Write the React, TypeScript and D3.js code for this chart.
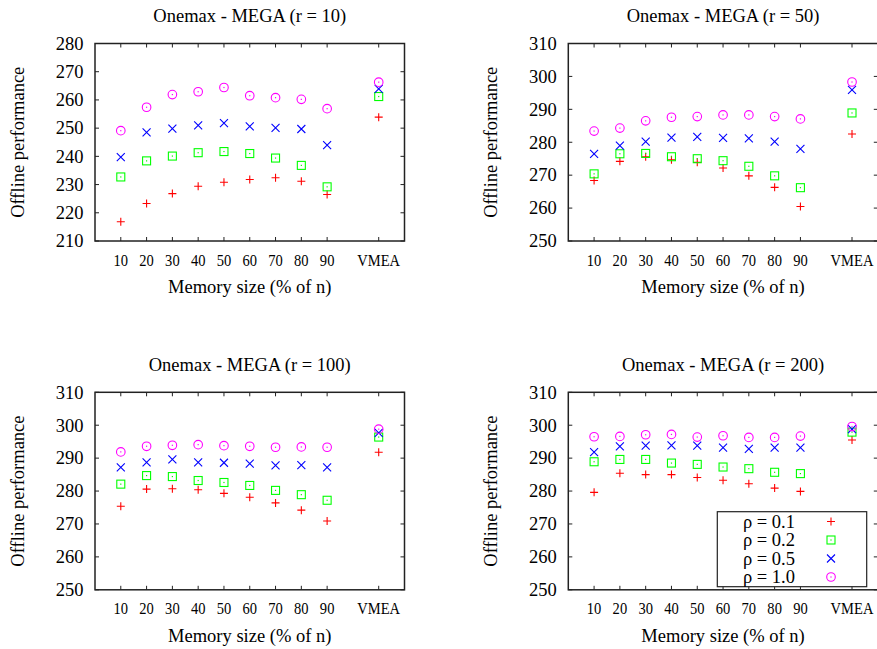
import React from "react";
import * as d3 from "d3";

const categories = ["10", "20", "30", "40", "50", "60", "70", "80", "90", "VMEA"];
const categoryPos = [1, 2, 3, 4, 5, 6, 7, 8, 9, 11];

const seriesLabels = ["ρ = 0.1", "ρ = 0.2", "ρ = 0.5", "ρ = 1.0"];
const seriesColors = ["#ff0000", "#00ff00", "#0000ff", "#ff00ff"];
const seriesShapes = ["plus", "square", "cross", "circle"];

const titles = [
  "Onemax - MEGA (r = 10)",
  "Onemax - MEGA (r = 50)",
  "Onemax - MEGA (r = 100)",
  "Onemax - MEGA (r = 200)",
];
const yTicks1 = [210, 220, 230, 240, 250, 260, 270, 280];
const yTicksOther = [250, 260, 270, 280, 290, 300, 310];

// r = 10
const r10_p01 = [216.8, 223.3, 226.8, 229.4, 230.8, 231.8, 232.4, 231.2, 226.5, 253.9];
const r10_p02 = [232.7, 238.4, 240.1, 241.3, 241.7, 241.0, 239.4, 236.8, 229.2, 261.2];
const r10_p05 = [239.7, 248.5, 249.8, 251.0, 251.8, 250.6, 250.1, 249.7, 244.0, 263.9];
const r10_p10 = [249.1, 257.4, 261.9, 262.9, 264.4, 261.5, 260.8, 260.2, 256.9, 266.3];

// r = 50
const r50_p01 = [268.4, 274.2, 275.6, 274.7, 273.9, 272.2, 269.8, 266.3, 260.5, 282.5];
const r50_p02 = [270.4, 276.5, 276.6, 275.6, 275.0, 274.4, 272.7, 269.8, 266.2, 288.9];
const r50_p05 = [276.5, 279.0, 280.2, 281.4, 281.6, 281.3, 281.2, 280.2, 278.0, 295.9];
const r50_p10 = [283.4, 284.3, 286.5, 287.6, 287.8, 288.3, 288.3, 287.8, 287.1, 298.3];

// r = 100
const r100_p01 = [275.4, 280.6, 280.7, 280.4, 279.3, 278.1, 276.4, 274.2, 270.9, 291.8];
const r100_p02 = [282.1, 284.7, 284.4, 283.2, 282.6, 281.7, 280.2, 278.9, 277.2, 296.4];
const r100_p05 = [287.2, 288.7, 289.6, 288.7, 288.6, 288.3, 287.8, 287.9, 287.2, 297.7];
const r100_p10 = [291.9, 293.6, 293.9, 294.1, 293.8, 293.6, 293.3, 293.4, 293.3, 298.8];

// r = 200
const r200_p01 = [279.6, 285.4, 285.0, 285.0, 284.1, 283.3, 282.2, 280.9, 279.9, 295.5];
const r200_p02 = [288.9, 289.6, 289.6, 288.5, 288.1, 287.3, 286.8, 285.7, 285.3, 297.9];
const r200_p05 = [291.8, 293.6, 293.8, 293.9, 293.8, 293.2, 292.8, 293.2, 293.2, 298.8];
const r200_p10 = [296.5, 296.6, 297.1, 297.2, 296.4, 296.8, 296.3, 296.3, 296.7, 299.6];

const panelsData = [
  [r10_p01, r10_p02, r10_p05, r10_p10],
  [r50_p01, r50_p02, r50_p05, r50_p10],
  [r100_p01, r100_p02, r100_p05, r100_p10],
  [r200_p01, r200_p02, r200_p05, r200_p10],
];
const panelTicks = [yTicks1, yTicksOther, yTicksOther, yTicksOther];

const FONT = "Liberation Serif";
const FS = 18.5;
const FSX = 17.3;
const PW = 309.5;
const PH = 197.5;
const panelOrigins = [
  [95, 43.5],
  [568.3, 43.5],
  [95, 392.3],
  [568.3, 392.3],
];

function Marker({ shape, x, y, color }: { shape: string; x: number; y: number; color: string }) {
  const s = 4;
  const sw = 1.1;
  if (shape === "plus") {
    return (
      <path d={`M${x - s},${y}H${x + s}M${x},${y - s}V${y + s}`} stroke={color} strokeWidth={sw} fill="none" />
    );
  }
  if (shape === "cross") {
    return (
      <path
        d={`M${x - s},${y - s}L${x + s},${y + s}M${x - s},${y + s}L${x + s},${y - s}`}
        stroke={color}
        strokeWidth={sw}
        fill="none"
      />
    );
  }
  if (shape === "square") {
    return (
      <g>
        <rect x={x - s} y={y - s} width={2 * s} height={2 * s} stroke={color} strokeWidth={sw} fill="none" />
        <rect x={x - 0.6} y={y - 0.6} width={1.2} height={1.2} fill={color} />
      </g>
    );
  }
  return (
    <g>
      <circle cx={x} cy={y} r={s + 0.3} stroke={color} strokeWidth={sw} fill="none" />
      <rect x={x - 0.6} y={y - 0.6} width={1.2} height={1.2} fill={color} />
    </g>
  );
}

function Panel({ idx }: { idx: number }) {
  const [L, T] = panelOrigins[idx];
  const ticks = panelTicks[idx];
  const x = d3.scaleLinear().domain([0, 12]).range([L, L + PW]);
  const y = d3
    .scaleLinear()
    .domain([d3.min(ticks) as number, d3.max(ticks) as number])
    .range([T + PH, T]);
  const tl = 4;
  const cx = L + PW / 2;
  return (
    <g>
      <text x={cx} y={T - 21.5} textAnchor="middle" fontFamily={FONT} fontSize={FS} fill="#000">
        {titles[idx]}
      </text>
      {ticks.map((t) => (
        <g key={"y" + t}>
          <line x1={L} x2={L + tl} y1={y(t)} y2={y(t)} stroke="#222" strokeWidth={1} />
          <line x1={L + PW} x2={L + PW - tl} y1={y(t)} y2={y(t)} stroke="#222" strokeWidth={1} />
          <text x={L - 11.5} y={y(t)} dy="0.34em" textAnchor="end" fontFamily={FONT} fontSize={FS} fill="#000">
            {t}
          </text>
        </g>
      ))}
      {categories.map((c, i) => (
        <g key={"x" + c}>
          <line x1={x(categoryPos[i])} x2={x(categoryPos[i])} y1={T + PH} y2={T + PH - tl} stroke="#222" strokeWidth={1} />
          <line x1={x(categoryPos[i])} x2={x(categoryPos[i])} y1={T} y2={T + tl} stroke="#222" strokeWidth={1} />
          <text
            transform={`translate(${x(categoryPos[i])},${T + PH + 24.5}) scale(0.84,1)`}
            textAnchor="middle"
            fontFamily={FONT}
            fontSize={FSX}
            fill="#000"
          >
            {c}
          </text>
        </g>
      ))}
      <rect x={L} y={T} width={PW} height={PH} fill="none" stroke="#222" strokeWidth={1.5} />
      <text x={cx} y={T + PH + 52} textAnchor="middle" fontFamily={FONT} fontSize={FS} fill="#000">
        Memory size (% of n)
      </text>
      <text
        transform={`translate(${L - 77},${T + PH / 2}) rotate(-90)`}
        textAnchor="middle"
        dominantBaseline="central"
        fontFamily={FONT}
        fontSize={FS}
        fill="#000"
      >
        Offline performance
      </text>
      {panelsData[idx].map((vals, si) =>
        vals.map((v, i) => (
          <Marker
            key={si + "-" + i}
            shape={seriesShapes[si]}
            x={x(categoryPos[i])}
            y={y(v)}
            color={seriesColors[si]}
          />
        ))
      )}
    </g>
  );
}

function Legend() {
  const bx = 717.3;
  const by = 511.7;
  const bw = 149.4;
  const bh = 75;
  const rowY = d3.scaleLinear().domain([0, 3]).range([521.5, 577]);
  return (
    <g>
      <rect x={bx} y={by} width={bw} height={bh} fill="#fff" stroke="#222" strokeWidth={1.2} />
      {seriesLabels.map((lab, i) => (
        <g key={lab}>
          <text x={795} y={rowY(i)} dy="0.34em" textAnchor="end" fontFamily={FONT} fontSize={FS} fill="#000">
            {lab}
          </text>
          <Marker shape={seriesShapes[i]} x={831} y={rowY(i)} color={seriesColors[i]} />
        </g>
      ))}
    </g>
  );
}

export default function App() {
  return (
    <svg width={877} height={649} style={{ position: "fixed", left: 0, top: 0, background: "#fff" }}>
      <rect x={0} y={0} width={877} height={649} fill="#fff" />
      {[0, 1, 2, 3].map((i) => (
        <Panel key={i} idx={i} />
      ))}
      <Legend />
    </svg>
  );
}
